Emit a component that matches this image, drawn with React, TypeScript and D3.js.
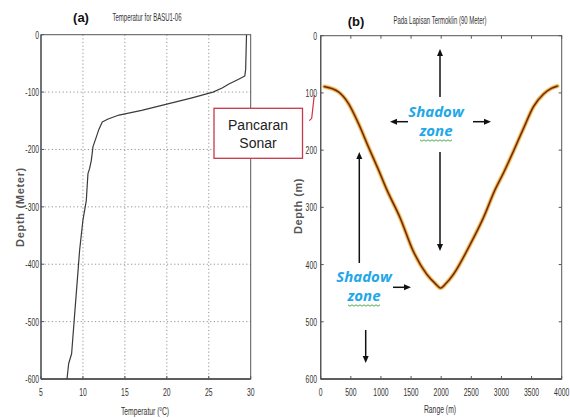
import React from "react";
import * as d3 from "d3";

// ---- Panel (a): temperature profile ----
const tempDepth = [0, 30, 60, 72, 78, 86, 93, 100, 110, 121, 132, 140, 147, 152, 165, 178, 195, 219, 233, 242, 265, 289, 323, 376, 405, 480, 556, 573, 600];
const tempValue = [29.5, 29.45, 29.4, 29.3, 28.5, 27.4, 26.6, 25.5, 23.0, 20.0, 17.0, 14.3, 13.0, 12.3, 11.9, 11.6, 11.2, 11.0, 10.8, 10.6, 10.5, 10.4, 10.0, 9.6, 9.45, 9.05, 8.65, 8.3, 8.1];
const tempTicks = [5, 10, 15, 20, 25, 30];
const depthTicksA = [0, -100, -200, -300, -400, -500, -600];

// ---- Panel (b): ray path ----
const rayRange = [60, 292, 458, 625, 791, 957, 1096, 1317, 1538, 1761, 1900, 1990, 2080, 2203, 2480, 2701, 2895, 3033, 3199, 3366, 3532, 3698, 3830, 3930];
const rayDepth = [89, 98, 118, 153, 194, 234, 269, 318, 377, 417, 433, 441, 433, 417, 365, 318, 269, 240, 202, 162, 124, 102, 92, 88];
const rangeTicks = [0, 500, 1000, 1500, 2000, 2500, 3000, 3500, 4000];
const depthTicksB = [0, 100, 200, 300, 400, 500, 600];

const FONT = "'Liberation Sans', Arial, sans-serif";

function CText({ x, y, anchor = "middle", size = 11, sx = 0.62, fill = "#333", children, weight = "normal" }: any) {
  return (
    <text
      transform={`translate(${x},${y}) scale(${sx},1)`}
      textAnchor={anchor}
      fontSize={size}
      fontFamily={FONT}
      fill={fill}
      fontWeight={weight}
    >
      {children}
    </text>
  );
}

function Arrow({ x1, y1, x2, y2 }: any) {
  const ang = Math.atan2(y2 - y1, x2 - x1);
  const L = 7, Wd = 3;
  const bx = x2 - L * Math.cos(ang), by = y2 - L * Math.sin(ang);
  const px = -Math.sin(ang) * Wd, py = Math.cos(ang) * Wd;
  return (
    <g>
      <line x1={x1} y1={y1} x2={bx} y2={by} stroke="#111" strokeWidth={1.5} />
      <path d={`M${x2},${y2}L${bx + px},${by + py}L${bx - px},${by - py}Z`} fill="#111" />
    </g>
  );
}

function Wavy({ x, y, w }: any) {
  let d = `M${x},${y}`;
  for (let i = 0; i < w / 2; i++) d += `L${x + (i + 1) * 2},${y + (i % 2 === 0 ? 1.2 : -0.2)}`;
  return <path d={d} fill="none" stroke="#3aa040" strokeWidth={0.9} />;
}

function ShadowZone({ x, y }: any) {
  return (
    <g fontFamily="'Open Sans', 'Liberation Sans', sans-serif" fontWeight="bold" fontStyle="italic" fontSize={15} fill="#22a7e8" textAnchor="middle">
      <text x={x} y={y}>Shadow</text>
      <text x={x} y={y + 19}>zone</text>
      <Wavy x={x - 16} y={y + 23} w={32} />
    </g>
  );
}

export default function App() {
  const W = 570, H = 418;
  const xL = d3.scaleLinear().domain([5, 30]).range([41, 250.7]);
  const yL = d3.scaleLinear().domain([0, -600]).range([34.7, 379]);
  const xR = d3.scaleLinear().domain([0, 4000]).range([320.7, 561.7]);
  const yR = d3.scaleLinear().domain([0, 600]).range([35.7, 379]);

  const tempLine = d3.line<number>().x((_, i) => xL(tempValue[i])).y((d) => yL(-d));
  const tempPath = tempLine(tempDepth) || "";
  const rayLine = d3.line<number>().x((d) => xR(d)).y((_, i) => yR(rayDepth[i])).curve(d3.curveMonotoneX);
  const rayPath = rayLine(rayRange) || "";

  const [ax0, ax1] = xL.range();
  const [ay0, ay1] = yL.range();
  const [bx0, bx1] = xR.range();
  const [by0, by1] = yR.range();

  return (
    <svg width={W} height={H} style={{ position: "fixed", left: 0, top: 0, background: "#fff" }}>
      <rect width={W} height={H} fill="#fff" />
      {/* ---------- Panel (a) ---------- */}
      <g>
        {tempTicks.slice(1, -1).map((t) => (
          <line key={"gx" + t} x1={xL(t)} x2={xL(t)} y1={ay0} y2={ay1} stroke="#888" strokeWidth={0.9} strokeDasharray="1.2,2.4" />
        ))}
        {depthTicksA.slice(1, -1).map((t) => (
          <line key={"gy" + t} x1={ax0} x2={ax1} y1={yL(t)} y2={yL(t)} stroke="#888" strokeWidth={0.9} strokeDasharray="1.2,2.4" />
        ))}
        <rect x={ax0} y={ay0} width={ax1 - ax0} height={ay1 - ay0} fill="none" stroke="#555" strokeWidth={1} />
        <line x1={ax0} x2={ax1} y1={ay1} y2={ay1} stroke="#444" strokeWidth={1.6} />
        <line x1={ax0} x2={ax0} y1={ay0} y2={ay1} stroke="#555" strokeWidth={1.3} />
        {tempTicks.map((t) => (
          <g key={"tx" + t}>
            <line x1={xL(t)} x2={xL(t)} y1={ay1} y2={ay1 - 3} stroke="#555" />
            <CText x={xL(t)} y={396} size={11}>{t}</CText>
          </g>
        ))}
        {depthTicksA.map((t) => (
          <g key={"ty" + t}>
            <line x1={ax0} x2={ax0 + 3} y1={yL(t)} y2={yL(t)} stroke="#555" />
            <CText x={39} y={yL(t) + 4} anchor="end" size={11}>{t}</CText>
          </g>
        ))}
        <path d={tempPath} fill="none" stroke="#3a3a3a" strokeWidth={1.2} strokeLinejoin="round" />
        <text x={81} y={22} textAnchor="middle" fontFamily={FONT} fontWeight="bold" fontSize={13} fill="#111">(a)</text>
        <CText x={147} y={21} size={10} sx={0.6}>Temperatur for BASU1-06</CText>
        <CText x={145} y={415} size={11} sx={0.62}>
          Temperatur (
          <tspan dy={-4} fontSize={7}>o</tspan>
          <tspan dy={4}>C)</tspan>
        </CText>
        <text transform="translate(24,207) rotate(-90)" textAnchor="middle" fontFamily={FONT} fontWeight="bold" fontSize={11} letterSpacing={0.7} fill="#555">Depth (Meter)</text>
      </g>

      {/* ---------- Panel (b) ---------- */}
      <g>
        <rect x={bx0} y={by0} width={bx1 - bx0} height={by1 - by0} fill="none" stroke="#555" strokeWidth={1} />
        <line x1={bx0} x2={bx1} y1={by1} y2={by1} stroke="#444" strokeWidth={1.5} />
        <line x1={bx0} x2={bx0} y1={by0} y2={by1} stroke="#555" strokeWidth={1.3} />
        {rangeTicks.map((t) => (
          <g key={"rx" + t}>
            <line x1={xR(t)} x2={xR(t)} y1={by1} y2={by1 - 3} stroke="#555" />
            <line x1={xR(t)} x2={xR(t)} y1={by0} y2={by0 + 3} stroke="#555" />
            <CText x={xR(t)} y={396} size={11}>{t}</CText>
          </g>
        ))}
        {depthTicksB.map((t) => (
          <g key={"ry" + t}>
            <line x1={bx0} x2={bx0 + 3} y1={yR(t)} y2={yR(t)} stroke="#555" />
            <line x1={bx1} x2={bx1 - 3} y1={yR(t)} y2={yR(t)} stroke="#555" />
            <CText x={317} y={yR(t) + 4} anchor="end" size={11}>{t}</CText>
          </g>
        ))}
        <path d={rayPath} fill="none" stroke="#f5d889" strokeWidth={4.6} strokeLinecap="round" />
        <path d={rayPath} fill="none" stroke="#d08a3a" strokeWidth={2.6} strokeLinecap="round" />
        <path d={rayPath} fill="none" stroke="#6a2208" strokeWidth={1.2} strokeLinecap="round" />
        <text x={356} y={26} textAnchor="middle" fontFamily={FONT} fontWeight="bold" fontSize={13} fill="#111">(b)</text>
        <CText x={440} y={24} size={10} sx={0.6}>Pada Lapisan Termoklin (90 Meter)</CText>
        <CText x={440} y={413} size={11} sx={0.62}>Range (m)</CText>
        <text transform="translate(302,206) rotate(-90)" textAnchor="middle" fontFamily={FONT} fontWeight="bold" fontSize={11} letterSpacing={0.5} fill="#555">Depth (m)</text>

        <Arrow x1={440} y1={97} x2={440} y2={49} />
        <Arrow x1={440} y1={152} x2={440} y2={251} />
        <Arrow x1={408} y1={121.7} x2={390} y2={121.7} />
        <Arrow x1={473} y1={121.7} x2={491} y2={121.7} />
        <Arrow x1={359.3} y1={263} x2={359.3} y2={152} />
        <Arrow x1={393} y1={287.3} x2={411} y2={287.3} />
        <Arrow x1={365.7} y1={330} x2={365.7} y2={363} />

        <ShadowZone x={436} y={117} />
        <ShadowZone x={364} y={282} />
      </g>

      {/* ---------- Pancaran Sonar callout ---------- */}
      <rect x={214} y={108.3} width={88.5} height={50} fill="#fff" stroke="#c8384a" strokeWidth={1.3} />
      <text x={258} y={130} textAnchor="middle" fontFamily="Arial, 'Liberation Sans', sans-serif" fontSize={14} fill="#222">Pancaran</text>
      <text x={258} y={148} textAnchor="middle" fontFamily="Arial, 'Liberation Sans', sans-serif" fontSize={14} fill="#222">Sonar</text>
      <path d="M314.3,95 L311.7,118.3 L309.3,120.7" fill="none" stroke="#d03040" strokeWidth={1.2} />
    </svg>
  );
}
